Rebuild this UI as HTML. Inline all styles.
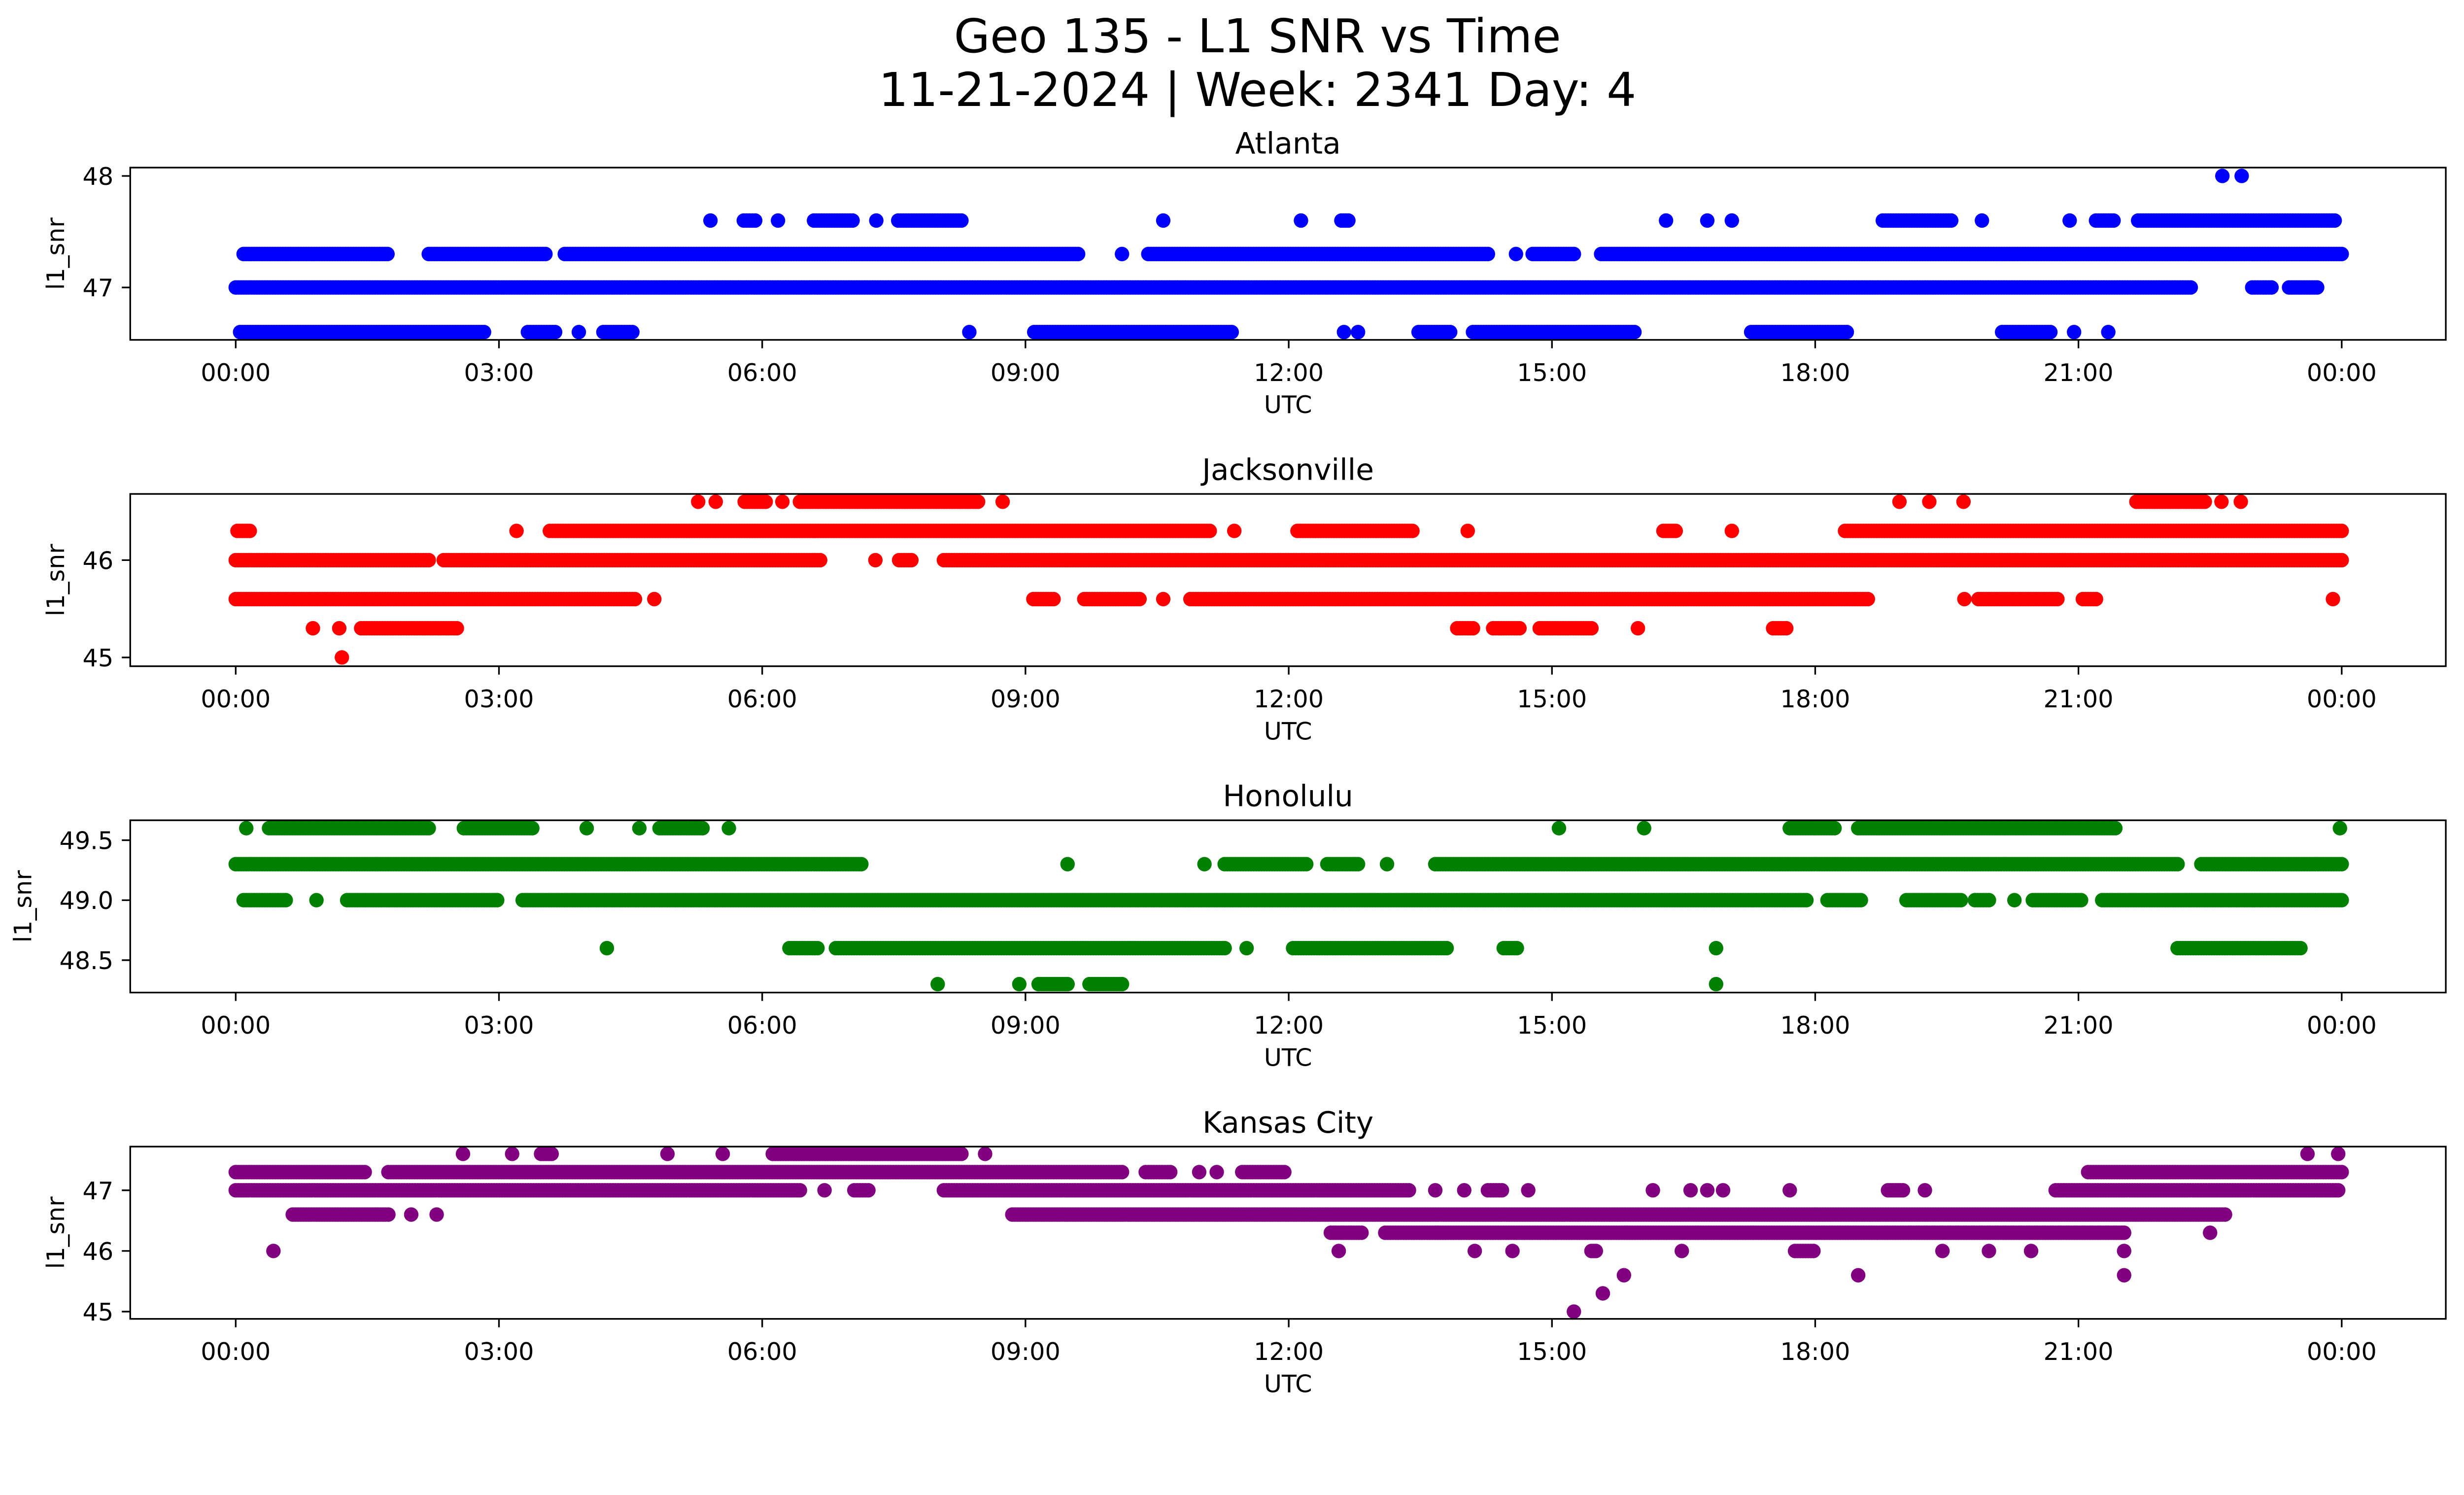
<!DOCTYPE html>
<html>
<head>
<meta charset="utf-8">
<style>
html,body{margin:0;padding:0;background:#fff;overflow:hidden;}
svg{display:block;width:100vw;height:auto;font-family:"DejaVu Sans","Liberation Sans",sans-serif;}
</style>
</head>
<body>
<svg id="fig" viewBox="0 0 5279 3033" preserveAspectRatio="xMinYMin meet" xmlns="http://www.w3.org/2000/svg">
<rect x="0" y="0" width="5279" height="3033" fill="#fff"/>
<text x="2694" y="112" font-size="100" text-anchor="middle" fill="#000">Geo 135 - L1 SNR vs Time</text>
<text x="2694" y="227" font-size="100" text-anchor="middle" fill="#000">11-21-2024 | Week: 2341 Day: 4</text>
</svg>
<script>
// ---- data (hours UTC, runs of dense samples [start,end]) ----
const xTickHours = [0,3,6,9,12,15,18,21,24];
const xTickLabels = ["00:00","03:00","06:00","09:00","12:00","15:00","18:00","21:00","00:00"];

const atlantaLevels = [48.0, 47.6, 47.3, 47.0, 46.6];
const atlantaRuns = [
 [[22.64,22.64],[22.86,22.86]],
 [[5.41,5.41],[5.79,5.92],[6.18,6.18],[6.59,7.03],[7.3,7.3],[7.55,8.27],[10.57,10.57],[12.14,12.14],[12.6,12.68],[16.3,16.3],[16.77,16.77],[17.05,17.05],[18.77,19.55],[19.9,19.9],[20.9,20.9],[21.2,21.4],[21.68,23.92]],
 [[0.09,1.73],[2.2,3.53],[3.75,9.6],[10.1,10.1],[10.4,14.27],[14.59,14.59],[14.78,15.25],[15.56,24]],
 [[0,22.28],[22.98,23.2],[23.4,23.72]],
 [[0.05,2.83],[3.33,3.64],[3.91,3.91],[4.19,4.52],[8.36,8.36],[9.1,11.35],[12.63,12.63],[12.79,12.79],[13.48,13.84],[14.1,15.94],[17.27,18.36],[20.13,20.68],[20.95,20.95],[21.34,21.34]]
];
const atlantaYTicks = [47, 48];
const atlantaYTickLabels = ["47", "48"];

const jaxLevels = [46.6, 46.3, 46.0, 45.6, 45.3, 45.0];
const jaxRuns = [
 [[5.27,5.27],[5.47,5.47],[5.8,6.04],[6.23,6.23],[6.43,8.46],[8.74,8.74],[18.96,18.96],[19.3,19.3],[19.69,19.69],[21.66,22.44],[22.63,22.63],[22.85,22.85]],
 [[0.02,0.16],[3.2,3.2],[3.58,11.1],[11.38,11.38],[12.1,13.41],[14.04,14.04],[16.27,16.41],[17.05,17.05],[18.34,24]],
 [[0,2.2],[2.37,6.66],[7.29,7.29],[7.56,7.7],[8.07,24]],
 [[0,4.55],[4.77,4.77],[9.09,9.32],[9.67,10.3],[10.57,10.57],[10.88,18.6],[19.7,19.7],[19.86,20.76],[21.05,21.2],[23.9,23.9]],
 [[0.88,0.88],[1.18,1.18],[1.43,2.52],[13.92,14.1],[14.33,14.63],[14.86,15.45],[15.98,15.98],[17.52,17.67]],
 [[1.21,1.21]]
];
const jaxYTicks = [45, 46];
const jaxYTickLabels = ["45", "46"];

const honLevels = [49.6, 49.3, 49.0, 48.6, 48.3];
const honRuns = [
 [[0.12,0.12],[0.38,2.2],[2.6,3.38],[4.0,4.0],[4.6,4.6],[4.83,5.32],[5.62,5.62],[15.08,15.08],[16.05,16.05],[17.71,18.22],[18.49,21.42],[23.98,23.98]],
 [[0,7.13],[9.48,9.48],[11.04,11.04],[11.27,12.2],[12.44,12.79],[13.12,13.12],[13.67,22.13],[22.4,24]],
 [[0.09,0.57],[0.92,0.92],[1.27,2.98],[3.27,17.9],[18.14,18.52],[19.04,19.66],[19.82,19.98],[20.27,20.27],[20.48,21.03],[21.27,24]],
 [[4.23,4.23],[6.31,6.63],[6.84,11.27],[11.52,11.52],[12.05,13.8],[14.45,14.6],[16.87,16.87],[22.13,23.53]],
 [[8.0,8.0],[8.93,8.93],[9.15,9.48],[9.73,10.1],[16.87,16.87]]
];
const honYTicks = [48.5, 49.0, 49.5];
const honYTickLabels = ["48.5", "49.0", "49.5"];

const kcLevels = [47.6, 47.3, 47.0, 46.6, 46.3, 46.0, 45.6, 45.3, 45.0];
const kcRuns = [
 [[2.59,2.59],[3.15,3.15],[3.48,3.6],[4.92,4.92],[5.55,5.55],[6.12,8.27],[8.54,8.54],[23.61,23.61],[23.96,23.96]],
 [[0,1.47],[1.74,10.1],[10.37,10.65],[10.98,10.98],[11.18,11.18],[11.47,11.95],[21.11,24]],
 [[0,6.43],[6.71,6.71],[7.05,7.21],[8.07,13.37],[13.67,13.67],[14.0,14.0],[14.27,14.43],[14.73,14.73],[16.15,16.15],[16.58,16.58],[16.77,16.77],[16.95,16.95],[17.71,17.71],[18.83,19.0],[19.25,19.25],[20.74,23.96]],
 [[0.65,1.74],[2.0,2.0],[2.29,2.29],[8.85,22.67]],
 [[12.48,12.83],[13.1,21.52],[22.5,22.5]],
 [[0.43,0.43],[12.57,12.57],[14.12,14.12],[14.55,14.55],[15.45,15.5],[16.48,16.48],[17.77,17.98],[19.45,19.45],[19.98,19.98],[20.46,20.46],[21.52,21.52]],
 [[15.82,15.82],[18.49,18.49],[21.52,21.52]],
 [[15.58,15.58]],
 [[15.25,15.25]]
];
const kcYTicks = [45, 46, 47];
const kcYTickLabels = ["45", "46", "47"];

// ---- layout ----
const NS = "http://www.w3.org/2000/svg";
const svg = document.getElementById("fig");
const AX_L = 279, AX_R = 5240, AX_H = 369;
const X0 = 505, PX_PER_H = 188;
function xScale(h){ return X0 + PX_PER_H * h; }

const panels = [
 {name:"atlanta", title:"Atlanta", top:359, ymin:46.53, ymax:48.075, color:"#0000ff", levels:atlantaLevels, runs:atlantaRuns, ticks:atlantaYTicks, labels:atlantaYTickLabels, ylx:137},
 {name:"jacksonville", title:"Jacksonville", top:1058, ymin:44.91, ymax:46.68, color:"#ff0000", levels:jaxLevels, runs:jaxRuns, ticks:jaxYTicks, labels:jaxYTickLabels, ylx:137},
 {name:"honolulu", title:"Honolulu", top:1757, ymin:48.23, ymax:49.666, color:"#008000", levels:honLevels, runs:honRuns, ticks:honYTicks, labels:honYTickLabels, ylx:67},
 {name:"kansas-city", title:"Kansas City", top:2456, ymin:44.88, ymax:47.72, color:"#800080", levels:kcLevels, runs:kcRuns, ticks:kcYTicks, labels:kcYTickLabels, ylx:137}
];

function mk(tag, attrs){
  const e = document.createElementNS(NS, tag);
  for (const k in attrs) e.setAttribute(k, attrs[k]);
  return e;
}

panels.forEach(p => {
  const g = mk("g", {});
  
  
  svg.appendChild(g);
  const bottom = p.top + AX_H;
  const yScale = v => bottom - (v - p.ymin) / (p.ymax - p.ymin) * AX_H;

  const cp = mk("clipPath", {id:"clip-" + p.name});
  cp.appendChild(mk("rect", {x:AX_L, y:p.top, width:AX_R-AX_L, height:AX_H}));
  g.appendChild(cp);

  const pts = mk("g", {fill:p.color, "clip-path":"url(#clip-" + p.name + ")"});
  
  
  g.appendChild(pts);
  p.levels.forEach((lv, i) => {
    const cy = yScale(lv);
    p.runs[i].forEach(run => {
      const a = run[0], b = run[1];
      const n = Math.max(0, Math.round((b - a) / 0.03));
      for (let k = 0; k <= n; k++) {
        const h = n === 0 ? a : a + (b - a) * k / n;
        const c = mk("circle", {cx:xScale(h).toFixed(1), cy:cy.toFixed(1), r:15.5});
        
        
        pts.appendChild(c);
      }
    });
  });

  const fr = mk("rect", {x:AX_L, y:p.top, width:AX_R-AX_L, height:AX_H, fill:"none", stroke:"#000", "stroke-width":3.5});
  
  
  g.appendChild(fr);

  xTickHours.forEach((h, i) => {
    const x = xScale(h);
    const t = mk("line", {x1:x, x2:x, y1:bottom, y2:bottom+18, stroke:"#000", "stroke-width":3.5});
    
    
    g.appendChild(t);
    const tx = mk("text", {x:x, y:bottom+88, "font-size":52, "text-anchor":"middle", fill:"#000"});
    tx.textContent = xTickLabels[i];
    
    
    g.appendChild(tx);
  });

  p.ticks.forEach((v, i) => {
    const y = yScale(v);
    const t = mk("line", {x1:AX_L-18, x2:AX_L, y1:y, y2:y, stroke:"#000", "stroke-width":3.5});
    
    
    g.appendChild(t);
    const tx = mk("text", {x:AX_L-36, y:y+19, "font-size":52, "text-anchor":"end", fill:"#000"});
    tx.textContent = p.labels[i];
    
    
    g.appendChild(tx);
  });

  const xl = mk("text", {x:(AX_L+AX_R)/2, y:bottom+157, "font-size":52, "text-anchor":"middle", fill:"#000"});
  xl.textContent = "UTC";
  
  
  g.appendChild(xl);

  const yc = p.top + AX_H/2;
  const yl = mk("text", {x:0, y:0, "font-size":52, "text-anchor":"middle", fill:"#000", transform:"translate(" + p.ylx + "," + yc + ") rotate(-90)"});
  yl.textContent = "l1_snr";
  
  
  g.appendChild(yl);

  const st = mk("text", {x:(AX_L+AX_R)/2, y:p.top-30, "font-size":63, "text-anchor":"middle", fill:"#000"});
  st.textContent = p.title;
  
  
  g.appendChild(st);
});
</script>
</body>
</html>
